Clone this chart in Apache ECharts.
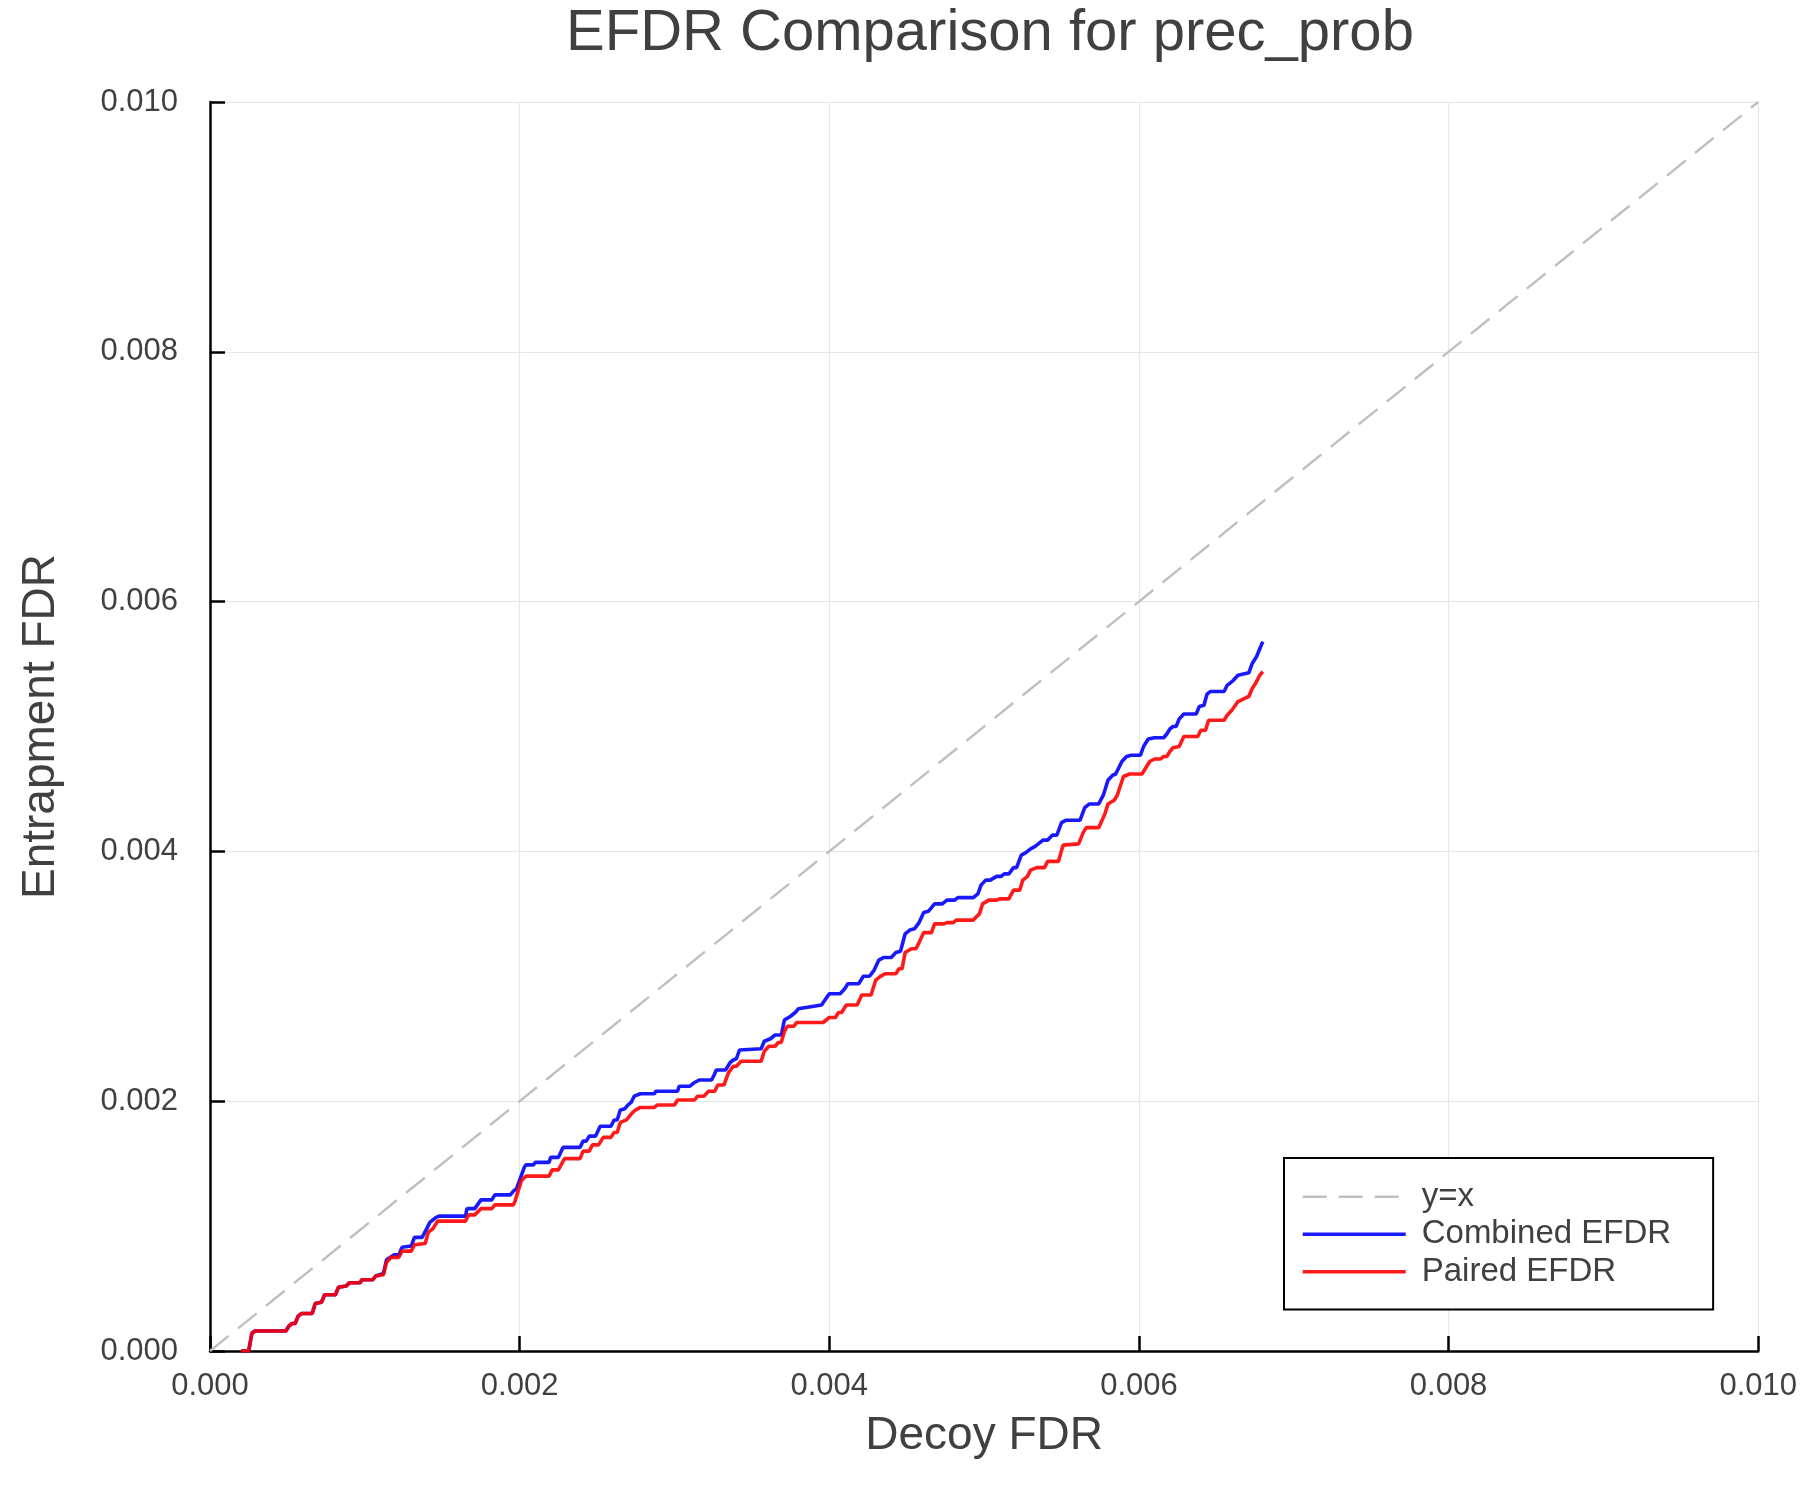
<!DOCTYPE html>
<html>
<head>
<meta charset="utf-8">
<script src="https://cdn.jsdelivr.net/npm/echarts@6/dist/echarts.min.js"></script>
<style>
html,body{margin:0;padding:0;background:#fff;}
#chart{width:1800px;height:1500px;}
</style>
</head>
<body>
<div id="chart"></div>
<script>
const titleText = 'EFDR Comparison for prec_prob';
const xAxisName = 'Decoy FDR';
const yAxisName = 'Entrapment FDR';
const seriesNames = ['y=x', 'Combined EFDR', 'Paired EFDR'];
const axisTicks = [0, 0.002, 0.004, 0.006, 0.008, 0.010];

const identityLine = [[0, 0], [0.01, 0.01]];

const sharedStart = [[0.00020,0],[0.00025,0],[0.00027,0.00014],[0.00029,0.00016],[0.00049,0.00016],[0.00051,0.00020],[0.00053,0.00022],[0.00055,0.00022],[0.00057,0.00028],[0.00059,0.00030],[0.00066,0.00030],[0.00068,0.00038],[0.00072,0.00039],[0.00074,0.00045],[0.00081,0.00045],[0.00083,0.00051],[0.00088,0.00052],[0.00090,0.000547],[0.00097,0.000547],[0.00098,0.00057],[0.00105,0.00057],[0.00107,0.00060]];

const pairedRest = [[0.00112,0.00061],[0.00114,0.00071],[0.00117,0.00075],[0.00122,0.00075],[0.00124,0.00080],[0.00130,0.00080],[0.00132,0.00085],[0.00139,0.00086],[0.00141,0.00095],[0.00144,0.00098],[0.00147,0.00104],[0.00165,0.00104],[0.00167,0.00109],[0.00171,0.00109],[0.00175,0.00114],[0.00182,0.00114],[0.00184,0.00117],[0.00196,0.00117],[0.00197,0.00120],[0.00201,0.00136],[0.00204,0.00140],[0.00219,0.00140],[0.00221,0.00145],[0.00225,0.00145],[0.00229,0.00154],[0.00239,0.00154],[0.00241,0.00160],[0.00245,0.00160],[0.00247,0.00165],[0.00251,0.00165],[0.00254,0.00171],[0.00259,0.00171],[0.00261,0.00175],[0.00263,0.00175],[0.00265,0.00183],[0.00269,0.00185],[0.00271,0.00188],[0.00273,0.00191],[0.00275,0.00193],[0.00278,0.00195],[0.00287,0.00195],[0.00289,0.00197],[0.00300,0.00197],[0.00302,0.00201],[0.00313,0.00201],[0.00315,0.00204],[0.00319,0.00204],[0.00322,0.00208],[0.00326,0.00208],[0.00328,0.00213],[0.00332,0.00213],[0.00335,0.00223],[0.00338,0.00228],[0.00340,0.00228],[0.00343,0.00232],[0.00356,0.00232],[0.00358,0.00240],[0.00361,0.00244],[0.00365,0.00244],[0.00367,0.00247],[0.00369,0.00247],[0.00371,0.00256],[0.00373,0.00260],[0.00377,0.00260],[0.00379,0.00263],[0.00396,0.00263],[0.00400,0.00267],[0.00404,0.00267],[0.00406,0.00271],[0.00408,0.00271],[0.00411,0.00277],[0.00418,0.00277],[0.00421,0.00285],[0.00427,0.00285],[0.00430,0.00297],[0.00433,0.00300],[0.00436,0.00302],[0.00443,0.00302],[0.00445,0.00306],[0.00447,0.00306],[0.00449,0.00319],[0.00453,0.00322],[0.00456,0.00322],[0.00458,0.00327],[0.00461,0.00335],[0.00466,0.00335],[0.00468,0.00342],[0.00474,0.00342],[0.00476,0.00343],[0.00480,0.00343],[0.00482,0.00345],[0.00493,0.00345],[0.00497,0.00350],[0.00499,0.00358],[0.00503,0.00361],[0.00508,0.00361],[0.00510,0.00362],[0.00516,0.00362],[0.00519,0.00369],[0.00523,0.00369],[0.00525,0.00377],[0.00528,0.00380],[0.00530,0.00385],[0.00534,0.00387],[0.00539,0.00387],[0.00541,0.00392],[0.00548,0.00392],[0.00551,0.00405],[0.00561,0.00406],[0.00564,0.00415],[0.00566,0.00419],[0.00574,0.00419],[0.00578,0.00430],[0.00580,0.00438],[0.00584,0.00441],[0.00586,0.00445],[0.00590,0.00460],[0.00594,0.00462],[0.00602,0.00462],[0.00605,0.00468],[0.00607,0.00472],[0.00610,0.00474],[0.00614,0.00474],[0.00616,0.00476],[0.00618,0.00476],[0.00620,0.00480],[0.00622,0.00483],[0.00626,0.00484],[0.00629,0.00492],[0.00638,0.00492],[0.00640,0.00497],[0.00643,0.00497],[0.00645,0.00505],[0.00655,0.00505],[0.00657,0.00509],[0.00660,0.00513],[0.00664,0.00520],[0.00669,0.00523],[0.00671,0.00524],[0.00673,0.00530],[0.00676,0.00536],[0.00678,0.00541],[0.00680,0.00544]];

const combinedRest = [[0.00112,0.00062],[0.00114,0.00073],[0.00119,0.00077],[0.00122,0.00077],[0.00124,0.00083],[0.00130,0.00084],[0.00132,0.00091],[0.00137,0.00091],[0.00140,0.00098],[0.00142,0.00103],[0.00146,0.00107],[0.00148,0.00108],[0.00165,0.00108],[0.00166,0.00114],[0.00171,0.00114],[0.00175,0.00121],[0.00182,0.00121],[0.00184,0.00125],[0.00194,0.00125],[0.00196,0.00128],[0.00198,0.00130],[0.00203,0.00147],[0.00204,0.00149],[0.00209,0.00149],[0.00210,0.00151],[0.00219,0.00151],[0.00220,0.00155],[0.00225,0.00155],[0.00228,0.00163],[0.00239,0.00163],[0.00241,0.00168],[0.00243,0.00168],[0.00245,0.00172],[0.00249,0.00172],[0.00252,0.00180],[0.00259,0.00180],[0.00261,0.00185],[0.00263,0.00185],[0.00265,0.00193],[0.00268,0.00194],[0.00270,0.00197],[0.00272,0.00199],[0.00274,0.00204],[0.00278,0.00206],[0.00287,0.00206],[0.00288,0.00208],[0.00302,0.00208],[0.00303,0.00212],[0.00310,0.00212],[0.00313,0.00215],[0.00316,0.00217],[0.00324,0.00217],[0.00326,0.00222],[0.00327,0.00225],[0.00333,0.00225],[0.00336,0.00231],[0.00338,0.00233],[0.00340,0.00234],[0.00342,0.00241],[0.00356,0.00242],[0.00358,0.00248],[0.00362,0.00250],[0.00365,0.00253],[0.00369,0.00253],[0.00371,0.00265],[0.00375,0.00268],[0.00378,0.00271],[0.00380,0.00274],[0.00390,0.00276],[0.00395,0.00277],[0.00400,0.00286],[0.00407,0.00286],[0.00410,0.00290],[0.00412,0.00294],[0.00419,0.00294],[0.00422,0.00300],[0.00426,0.00300],[0.00429,0.00305],[0.00432,0.00313],[0.00435,0.00315],[0.00440,0.00315],[0.00443,0.00319],[0.00446,0.00320],[0.00449,0.00334],[0.00452,0.00337],[0.00455,0.00338],[0.00458,0.00343],[0.00461,0.00351],[0.00464,0.00352],[0.00468,0.00358],[0.00473,0.00358],[0.00476,0.00361],[0.00481,0.00361],[0.00483,0.00363],[0.00493,0.00363],[0.00496,0.00366],[0.00498,0.00373],[0.00501,0.00377],[0.00504,0.00377],[0.00508,0.00380],[0.00511,0.00380],[0.00513,0.00382],[0.00516,0.00382],[0.00519,0.00387],[0.00521,0.00387],[0.00524,0.00397],[0.00527,0.00399],[0.00530,0.00402],[0.00533,0.00404],[0.00535,0.00406],[0.00538,0.00409],[0.00541,0.00409],[0.00544,0.00413],[0.00547,0.00413],[0.00550,0.00423],[0.00553,0.00425],[0.00562,0.00425],[0.00565,0.00435],[0.00568,0.00438],[0.00574,0.00438],[0.00577,0.00445],[0.00580,0.00457],[0.00583,0.00461],[0.00585,0.00462],[0.00589,0.00472],[0.00592,0.00476],[0.00595,0.00477],[0.00601,0.00477],[0.00603,0.00484],[0.00606,0.00490],[0.00610,0.00491],[0.00616,0.00491],[0.00618,0.00494],[0.00620,0.00498],[0.00622,0.00500],[0.00624,0.00500],[0.00626,0.00506],[0.00629,0.00510],[0.00637,0.00510],[0.00639,0.00516],[0.00642,0.00517],[0.00644,0.00526],[0.00646,0.00528],[0.00655,0.00528],[0.00657,0.00533],[0.00661,0.00537],[0.00664,0.00541],[0.00671,0.00543],[0.00673,0.00550],[0.00676,0.00556],[0.00678,0.00562],[0.00680,0.00568]];

const combinedData = sharedStart.concat(combinedRest);
const pairedData = sharedStart.concat(pairedRest);

const FONT = 'Liberation Sans';
const TXT = '#404040';

const chart = echarts.init(document.getElementById('chart'), null, {renderer: 'canvas'});

function axisCommon(name, isX) {
  return {
    type: 'value',
    min: axisTicks[0],
    max: axisTicks[axisTicks.length - 1],
    interval: axisTicks[1] - axisTicks[0],
    name: name,
    nameLocation: 'middle',
    nameGap: isX ? 62 : 146,
    nameTextStyle: {fontFamily: FONT, fontSize: 46, color: TXT},
    axisLine: {show: true, onZero: false, lineStyle: {color: '#000', width: 2.5}},
    axisTick: {show: true, inside: true, length: 15, lineStyle: {color: '#000', width: 2.5}},
    axisLabel: {
      fontFamily: FONT, fontSize: 31, color: TXT,
      margin: isX ? 20 : 32,
      formatter: v => v.toFixed(3)
    },
    splitLine: {show: true, lineStyle: {color: '#e6e6e6', width: 1.2}}
  };
}

chart.setOption({
  animation: false,
  backgroundColor: '#fff',
  title: {
    text: titleText,
    left: 985,
    top: 0,
    textAlign: 'center',
    textStyle: {fontFamily: FONT, fontSize: 58, fontWeight: 'normal', color: TXT}
  },
  grid: {left: 210, right: 35, top: 102, bottom: 149, containLabel: false},
  xAxis: axisCommon(xAxisName, true),
  yAxis: axisCommon(yAxisName, false),
  legend: {
    orient: 'vertical',
    left: 1284,
    top: 1158,
    backgroundColor: '#fff',
    borderColor: '#000',
    borderWidth: 2,
    borderRadius: 0,
    padding: [20, 42, 19, 17],
    itemWidth: 103,
    itemHeight: 14,
    itemGap: 0,
    selectedMode: false,
    itemStyle: {opacity: 0, borderWidth: 0},
    lineStyle: {width: 3.4},
    textStyle: {fontFamily: FONT, fontSize: 33, color: TXT, lineHeight: 37.5, padding: [0, 0, 0, 11]},
    data: [
      {name: seriesNames[0], lineStyle: {width: 2.6}},
      {name: seriesNames[1]},
      {name: seriesNames[2]}
    ]
  },
  series: [
    {
      name: seriesNames[0], type: 'line', data: identityLine,
      symbol: 'none', showSymbol: false, silent: true,
      lineStyle: {color: '#bfbfbf', width: 2.4, type: [24, 12]},
      itemStyle: {color: '#bfbfbf'}, z: 2
    },
    {
      name: seriesNames[1], type: 'line', data: combinedData,
      symbol: 'none', showSymbol: false, silent: true,
      lineStyle: {color: '#0000ff', width: 3.6, opacity: 0.9},
      itemStyle: {color: '#0000ff', opacity: 0.9}, z: 3
    },
    {
      name: seriesNames[2], type: 'line', data: pairedData,
      symbol: 'none', showSymbol: false, silent: true,
      lineStyle: {color: '#ff0000', width: 3.6, opacity: 0.9},
      itemStyle: {color: '#ff0000', opacity: 0.9}, z: 4
    }
  ]
});
</script>
</body>
</html>
